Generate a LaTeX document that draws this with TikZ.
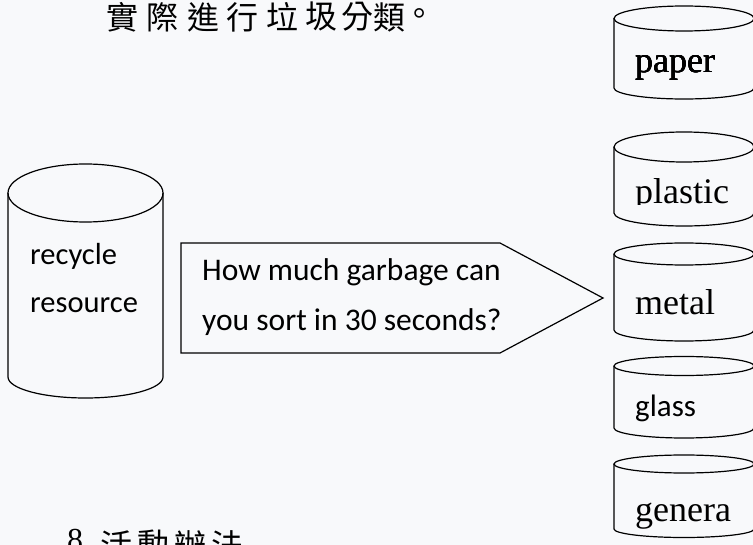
\documentclass[tikz,border=0pt]{standalone}
\usepackage{fontspec}
\usepackage{tikz}
\newfontfamily\calibri{Carlito}
\newfontfamily\timesrm{Liberation Serif}
\newfontfamily\zhfont{Noto Sans CJK TC}
\definecolor{sheet}{RGB}{248,249,251}
% #1 x, #2 top y, #3 bottom y, #4 x radius, #5 top y radius, #6 bottom y radius
\newcommand{\bin}[6]{%
\draw[bin line] (#1-#4,#2) -- (#1-#4,#3) arc[start angle=180,end angle=0,x radius=#4,y radius=#6] -- (#1+#4,#2);
\draw[bin line] (#1,#2) ellipse[x radius=#4,y radius=#5];}

\begin{document}
\begin{tikzpicture}[x=1pt,y=-1pt,bin line/.style={line width=1.2pt},
                   word/.style={anchor=base west,inner sep=0pt},
                   zh/.style={inner sep=0pt,font=\zhfont\fontsize{32}{32}\selectfont}]
\path[use as bounding box,fill=sheet] (0,0) rectangle (753,545);
\clip (0,0) rectangle (753,545);
% heading lines
\foreach \c/\x [count=\i] in {實/122,際/162,進/203,行/242,垃/282,圾/321,分/357,類/389,。/419}
  \node[zh] (top\i) at (\x,17) {\c};
\node[word,font=\timesrm\fontsize{32}{32}\selectfont] (num) at (67,550) {8.};
\foreach \c [count=\i] in {活,動,辦,法}
  \node[zh] (step\i) at ({116.5+(\i-1)*37},545) {\c};
% recycle bin and question
\bin{85.5}{193}{377}{77.5}{29}{21}
\node[word,font=\calibri\fontsize{30.5}{30.5}\selectfont] (recycle) at (30,265) {recycle};
\node[word,font=\calibri\fontsize{30.5}{30.5}\selectfont] (resource) at (30,313) {resource};
\draw[bin line] (181,243) -- (500,243) -- (603,298) -- (500,353) -- (181,353) -- cycle;
\node[word,font=\calibri\fontsize{31.5}{31.5}\selectfont] (ask1) at (202,281) {How much garbage can};
\node[word,font=\calibri\fontsize{31.5}{31.5}\selectfont] (ask2) at (202,331) {you sort in 30 seconds?};
% sorting bins
\foreach \yt/\yb/\rt/\rb in {18.5/88/12.5/11,147/213/15/13,254/330/11/11,366/428/9.5/10,464/529/9/8.5}
  \bin{684}{\yt}{\yb}{70}{\rt}{\rb}
\node[word,font=\timesrm\fontsize{36}{36}\selectfont] (paper) at (635,73) {paper};
\begin{scope}
\clip (600,160) rectangle (753,205);
\node[word,font=\timesrm\fontsize{36}{36}\selectfont] (plastic) at (635,204) {plastic};
\end{scope}
\node[word,font=\timesrm\fontsize{36}{36}\selectfont] (metal) at (635,315) {metal};
\node[word,font=\calibri\fontsize{31}{31}\selectfont] (glass) at (635,417) {glass};
\node[word,font=\timesrm\fontsize{36}{36}\selectfont] (genera) at (635,521) {genera};
\end{tikzpicture}
\end{document}
